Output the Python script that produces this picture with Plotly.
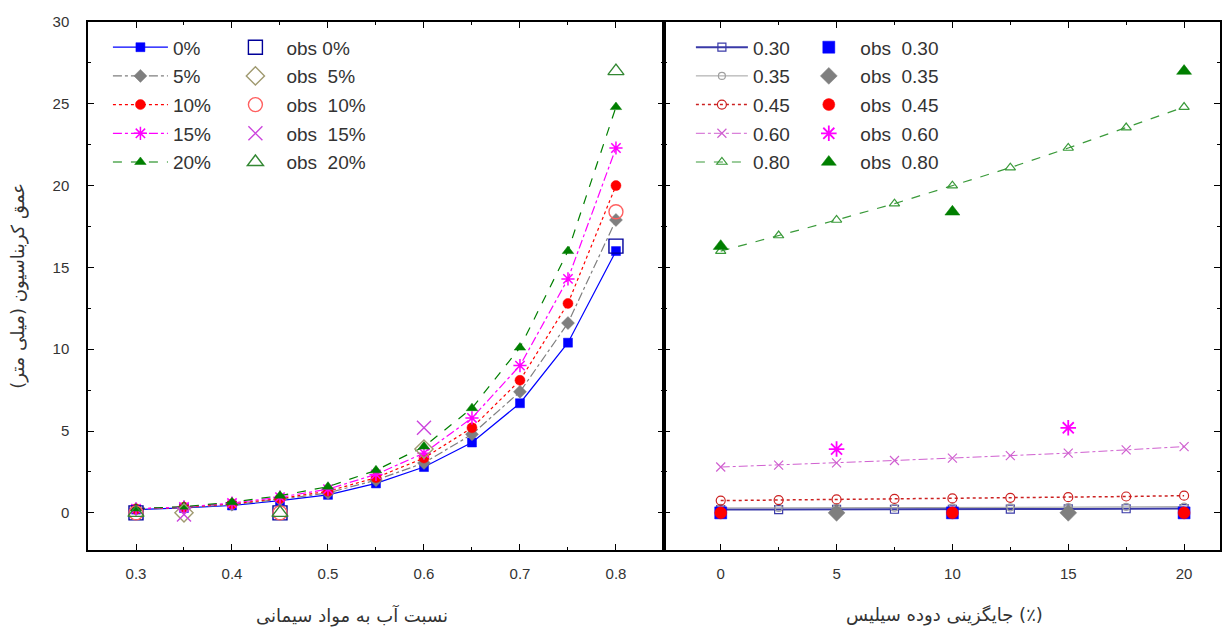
import plotly.graph_objects as go

# ---------------- data ----------------
wc = [0.30, 0.35, 0.40, 0.45, 0.50, 0.55, 0.60, 0.65, 0.70, 0.75, 0.80]
sf_names = ["0%", "5%", "10%", "15%", "20%"]
model_sf0 = [0.20, 0.30, 0.45, 0.75, 1.10, 1.80, 2.80, 4.30, 6.70, 10.4, 16.0]
model_sf5 = [0.22, 0.32, 0.50, 0.82, 1.22, 2.00, 3.05, 4.80, 7.40, 11.6, 17.9]
model_sf10 = [0.24, 0.34, 0.55, 0.88, 1.32, 2.15, 3.35, 5.20, 8.10, 12.8, 20.0]
model_sf15 = [0.25, 0.36, 0.60, 0.96, 1.45, 2.35, 3.65, 5.80, 9.00, 14.3, 22.3]
model_sf20 = [0.26, 0.38, 0.65, 1.05, 1.60, 2.60, 4.05, 6.40, 10.1, 16.0, 24.8]

obs_wc_a = [0.30, 0.45, 0.80]
obs_wc_b = [0.35, 0.60]
obs_sf0 = [0.0, 0.0, 16.3]
obs_sf5 = [0.0, 3.9]
obs_sf10 = [0.0, 0.0, 18.4]
obs_sf15 = [-0.1, 5.2]
obs_sf20 = [0.0, 0.0, 27.0]

sf = [0, 2.5, 5, 7.5, 10, 12.5, 15, 17.5, 20]
wc_names = ["0.30", "0.35", "0.45", "0.60", "0.80"]
model_wc030 = [0.20, 0.20, 0.21, 0.22, 0.22, 0.23, 0.24, 0.25, 0.26]
model_wc035 = [0.30, 0.30, 0.31, 0.32, 0.33, 0.34, 0.35, 0.36, 0.38]
model_wc045 = [0.75, 0.78, 0.82, 0.85, 0.88, 0.92, 0.96, 1.00, 1.05]
model_wc060 = [2.80, 2.92, 3.05, 3.20, 3.35, 3.50, 3.65, 3.85, 4.05]
model_wc080 = [16.0, 16.95, 17.9, 18.9, 20.0, 21.1, 22.3, 23.55, 24.8]

obs_sf_a = [0, 10, 20]
obs_sf_b = [5, 15]
obs_wc030 = [0.0, 0.0, 0.0]
obs_wc035 = [0.0, 0.0]
obs_wc045 = [0.0, 0.0, 0.0]
obs_wc060 = [3.9, 5.2]
obs_wc080 = [16.3, 18.4, 27.0]

y_title = "عمق کربناسیون (میلی متر)"
x_title_left = "نسبت آب به مواد سیمانی"
x_title_right = "جایگزینی دوده سیلیس (٪)"

# ---------------- figure ----------------
fig = go.Figure()
NB = "\u00a0"


def add(x, y, name, legend, xa, ya, mode, color, symbol, size, dash="solid",
        lw=1.2, mlw=1.5, group=None):
    fig.add_trace(go.Scatter(
        x=x, y=y, name=name, mode=mode, legend=legend,
        xaxis=xa, yaxis=ya, legendgroup=group or name,
        line=dict(color=color, width=lw, dash=dash),
        marker=dict(color=color, symbol=symbol, size=size,
                    line=dict(color=color, width=mlw)),
    ))


# left panel model lines
left_models = [
    (model_sf0, "0%", "#0000ff", "square", 9, "solid"),
    (model_sf5, "5%", "#7f7f7f", "diamond", 10, "dashdot"),
    (model_sf10, "10%", "#ff0000", "circle", 10, "dot"),
    (model_sf15, "15%", "#ff00ff", "asterisk-open", 11, "dashdot"),
    (model_sf20, "20%", "#007f00", "triangle-up", 10, "dash"),
]
for ys, nm, c, s, sz, d in left_models:
    add(wc, ys, nm, "legend", "x", "y", "lines+markers", c, s, sz, d,
        mlw=1.5 if "open" in s else 0.5, group="L" + nm)

left_obs = [
    (obs_wc_a, obs_sf0, "obs 0%", "#000099", "square-open"),
    (obs_wc_b, obs_sf5, "obs" + NB + " 5%", "#a09a70", "diamond-open"),
    (obs_wc_a, obs_sf10, "obs" + NB + " 10%", "#ff6060", "circle-open"),
    (obs_wc_b, obs_sf15, "obs" + NB + " 15%", "#cc44dd", "x-thin-open"),
    (obs_wc_a, obs_sf20, "obs" + NB + " 20%", "#338833", "triangle-up-open"),
]
for xs, ys, nm, c, s in left_obs:
    add(xs, ys, nm, "legend2", "x", "y", "markers", c, s, 14, mlw=1.4,
        group="LO" + nm)

# right panel model lines
right_models = [
    (model_wc030, "0.30", "#3a3aa8", "square-open", 8, "solid", 2.0),
    (model_wc035, "0.35", "#a0a0a0", "circle-open", 7, "solid", 1.0),
    (model_wc045, "0.45", "#cc2020", "circle-open", 9, "dot", 1.5),
    (model_wc060, "0.60", "#d060d0", "x-thin-open", 9, "dashdot", 1.0),
    (model_wc080, "0.80", "#3a9a3a", "triangle-up-open", 9, "dash", 1.2),
]
for ys, nm, c, s, sz, d, lw in right_models:
    add(sf, ys, nm, "legend3", "x2", "y2", "lines+markers", c, s, sz, d,
        lw=lw, mlw=1.2, group="R" + nm)

right_obs = [
    (obs_sf_a, obs_wc030, "obs" + NB + " 0.30", "#0000ff", "square", 12),
    (obs_sf_b, obs_wc035, "obs" + NB + " 0.35", "#7f7f7f", "diamond", 13),
    (obs_sf_a, obs_wc045, "obs" + NB + " 0.45", "#ff0000", "circle", 12),
    (obs_sf_b, obs_wc060, "obs" + NB + " 0.60", "#ff00ff", "asterisk-open", 13),
    (obs_sf_a, obs_wc080, "obs" + NB + " 0.80", "#007f00", "triangle-up", 13),
]
for xs, ys, nm, c, s, sz in right_obs:
    add(xs, ys, nm, "legend4", "x2", "y2", "markers", c, s, sz,
        mlw=1.8 if "open" in s else 0.5, group="RO" + nm)

tickfont = dict(family="Liberation Sans, Arial, sans-serif", size=15, color="#333333")
axis_common = dict(
    showline=True, linecolor="black", linewidth=1.5, mirror="ticks",
    ticks="inside", ticklen=6, tickwidth=1.3, tickcolor="black",
    showgrid=False, zeroline=False, tickfont=tickfont,
)
minor_common = dict(ticks="inside", ticklen=3, tickcolor="black", tickwidth=1)

split = 0.5088
fig.update_layout(
    width=1230, height=637,
    margin=dict(l=88, r=8, t=22, b=87),
    paper_bgcolor="white", plot_bgcolor="white",
    xaxis=dict(domain=[0, split], range=[0.25, 0.85], dtick=0.1, tick0=0.3,
               tickformat=".1f", anchor="y", ticklabelstandoff=9,
               minor=dict(dtick=0.05, tick0=0.3, **minor_common),
               **axis_common),
    yaxis=dict(domain=[0, 1], range=[-2.27, 30], dtick=5, tick0=0,
               anchor="x", ticklabelstandoff=14,
               minor=dict(dtick=2.5, tick0=0, **minor_common),
               **axis_common),
    xaxis2=dict(domain=[split, 1], range=[-2.45, 21.55], dtick=5, tick0=0,
                anchor="y2", ticklabelstandoff=9,
                minor=dict(dtick=2.5, tick0=0, **minor_common),
                **axis_common),
    yaxis2=dict(domain=[0, 1], range=[-2.27, 30], dtick=5, tick0=0,
                anchor="x2", showticklabels=False, matches="y",
                minor=dict(dtick=2.5, tick0=0, **minor_common),
                **axis_common),
    showlegend=True,
)

legend_common = dict(
    bgcolor="rgba(0,0,0,0)", borderwidth=0, orientation="v",
    xanchor="left", yanchor="top", traceorder="grouped", tracegroupgap=1,
    font=dict(family="Liberation Sans, Arial, sans-serif", size=19, color="#333333"),
)
fig.update_layout(
    legend=dict(x=0.0176, y=0.988, itemwidth=55, **legend_common),
    legend2=dict(x=0.1205, y=0.988, itemwidth=52, **legend_common),
    legend3=dict(x=0.5326, y=0.988, itemwidth=52, **legend_common),
    legend4=dict(x=0.6266, y=0.988, itemwidth=53, **legend_common),
)

titlefont = dict(family="DejaVu Sans, Noto Sans, sans-serif", size=18, color="#333333")
fig.add_annotation(text=y_title, xref="paper", yref="paper", x=-0.062, y=0.5,
                   textangle=-90, showarrow=False, font=titlefont,
                   xanchor="center", yanchor="middle")
fig.add_annotation(text=x_title_left, xref="paper", yref="paper",
                   x=(352 - 88) / 1134, y=-(615 - 550) / 528, showarrow=False,
                   font=titlefont, xanchor="center", yanchor="middle")
fig.add_annotation(text=x_title_right, xref="paper", yref="paper",
                   x=(946 - 88) / 1134, y=-(615 - 550) / 528, showarrow=False,
                   font=titlefont, xanchor="center", yanchor="middle")

fig.write_html("out.html")
